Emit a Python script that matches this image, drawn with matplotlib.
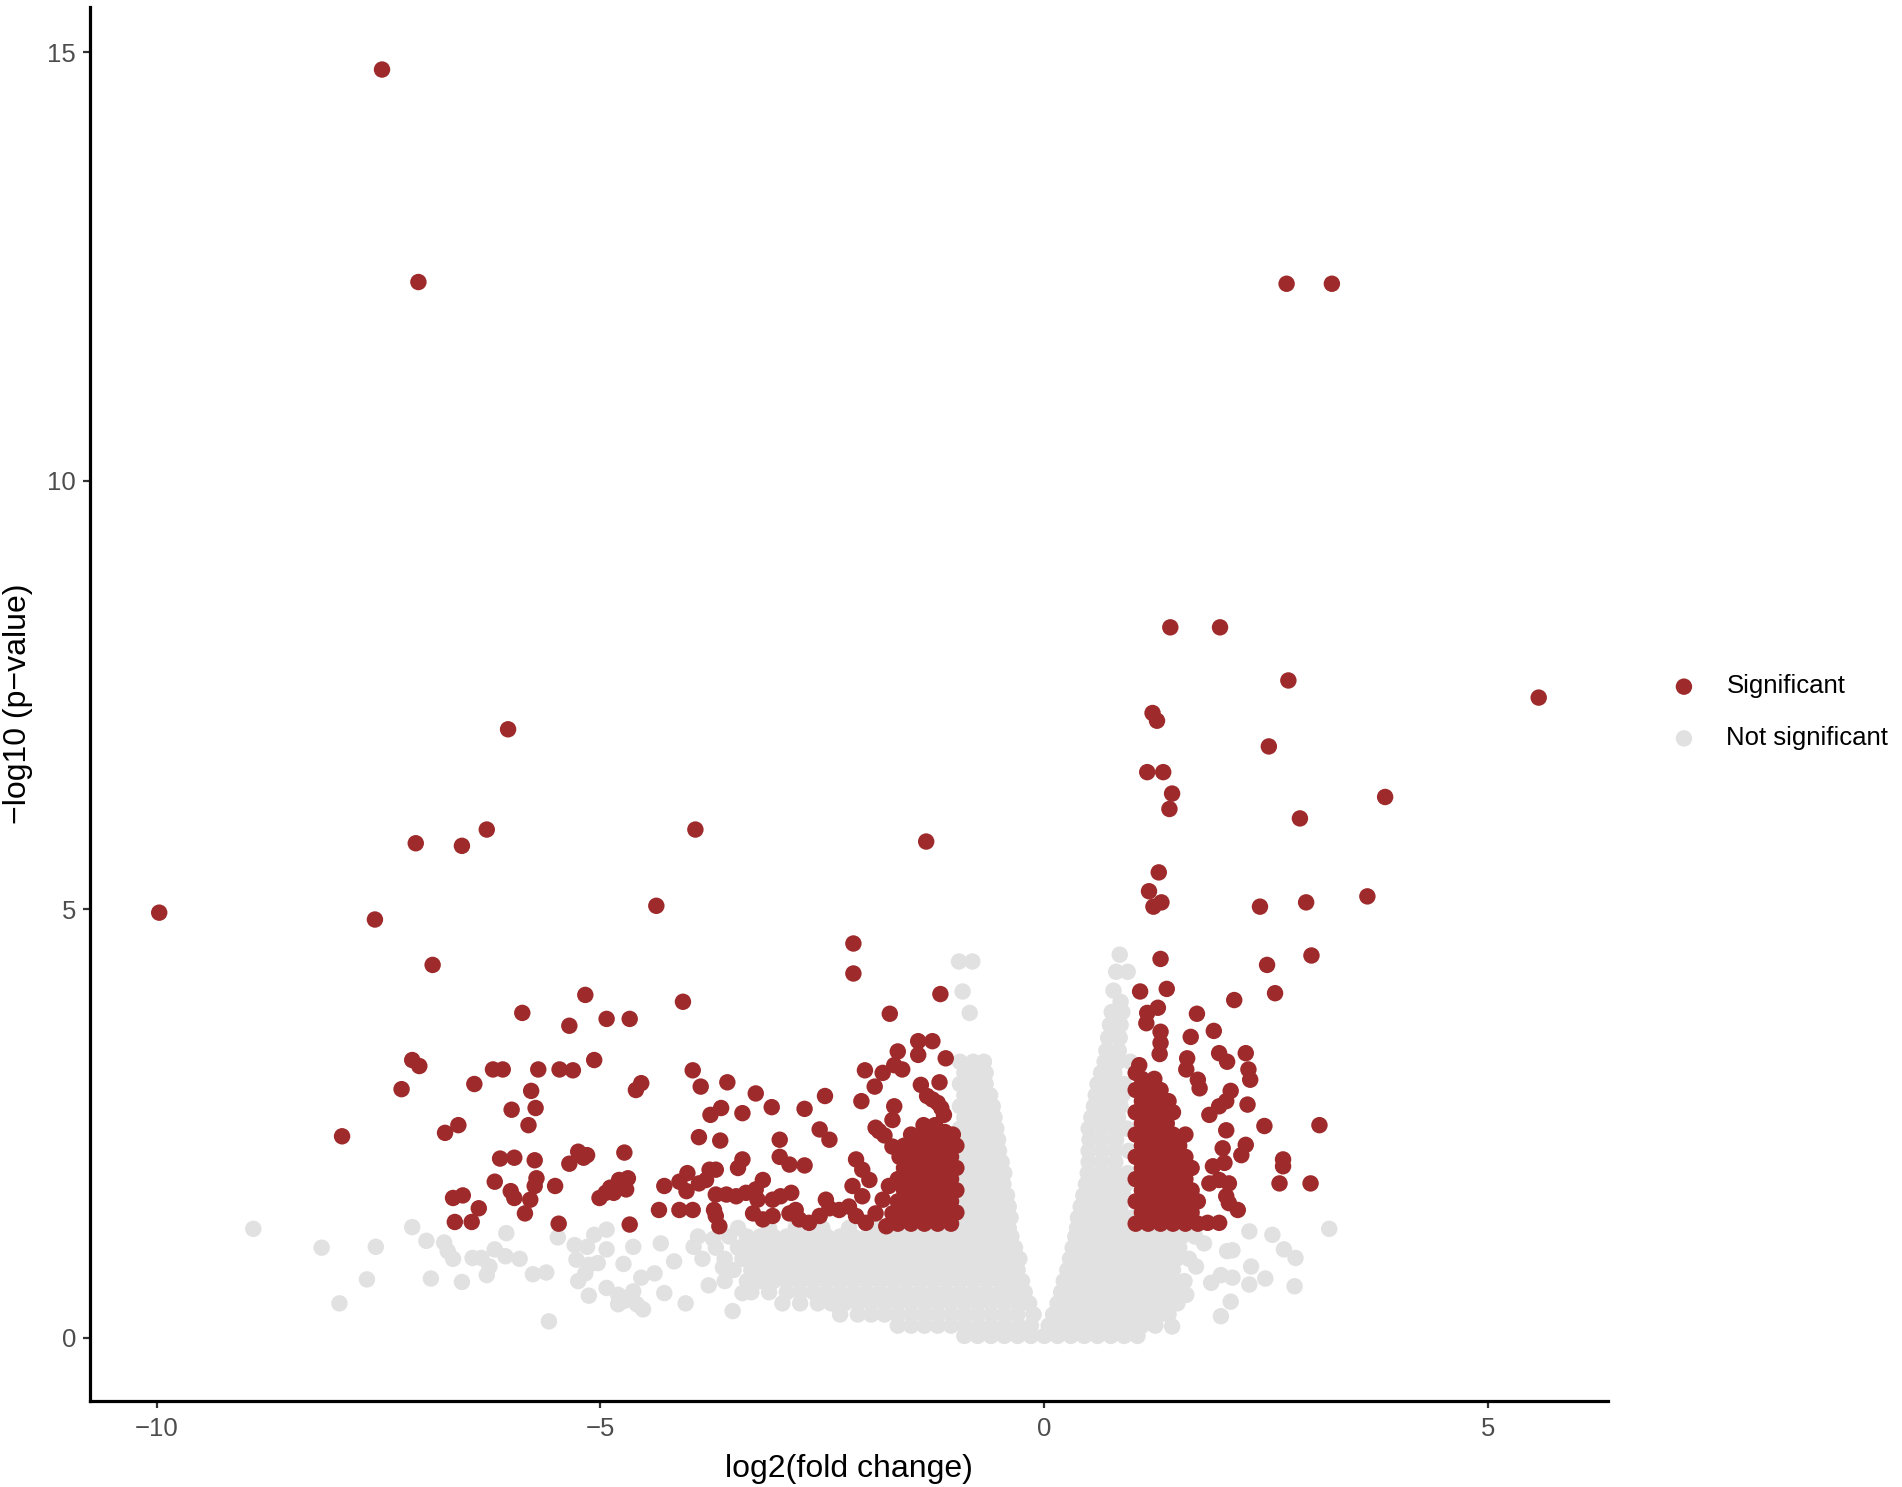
import matplotlib
matplotlib.use("Agg")
import matplotlib.pyplot as plt
import numpy as np

plt.rcParams["font.family"] = ["Liberation Sans", "DejaVu Sans"]

# ---- data (log2 fold change, -log10 p) ----
red_top = [(-7.46, 14.80), (-7.05, 12.32), (2.73, 12.30), (3.24, 12.30),
           (1.42, 8.29), (1.98, 8.29), (2.75, 7.67), (5.57, 7.47), (1.22, 7.29), (1.27, 7.20),
           (2.53, 6.90), (1.16, 6.60), (1.34, 6.60), (1.44, 6.35), (1.41, 6.17), (3.84, 6.31),
           (2.88, 6.06), (-6.04, 7.10), (-6.28, 5.93), (-6.56, 5.74), (-7.08, 5.77),
           (-3.93, 5.93), (-1.33, 5.79), (-9.97, 4.96), (-7.54, 4.88), (-6.89, 4.35),
           (-4.37, 5.04), (1.29, 5.43), (1.18, 5.21), (1.32, 5.08), (1.23, 5.03), (2.43, 5.03),
           (2.95, 5.08), (3.64, 5.15), (1.31, 4.42), (2.51, 4.35), (3.01, 4.46), (-2.15, 4.60),
           (-2.15, 4.25), (1.08, 4.04), (1.38, 4.07), (2.60, 4.02), (-1.17, 4.01), (-5.17, 4.00)]

red_left = [(-4.07, 3.92), (-5.88, 3.79), (-5.35, 3.64), (-4.93, 3.72), (-4.67, 3.72), (-1.74, 3.78),
            (-7.12, 3.24), (-7.04, 3.17), (-7.24, 2.90), (-6.21, 3.13), (-6.10, 3.13), (-6.42, 2.96),
            (-5.70, 3.13), (-5.46, 3.13), (-5.31, 3.12), (-5.07, 3.24), (-5.78, 2.88), (-6.00, 2.66),
            (-5.73, 2.68), (-4.60, 2.89), (-4.54, 2.97), (-7.91, 2.35), (-5.81, 2.48), (-6.75, 2.39),
            (-6.60, 2.48), (-6.13, 2.09), (-5.97, 2.10), (-5.74, 2.07), (-6.19, 1.82), (-6.01, 1.71),
            (-5.97, 1.63), (-5.72, 1.86), (-5.74, 1.77), (-5.79, 1.61), (-5.85, 1.45), (-5.51, 1.77),
            (-5.35, 2.03), (-5.25, 2.17), (-5.15, 2.13), (-5.19, 2.10), (-4.73, 2.16), (-6.66, 1.63),
            (-6.55, 1.66), (-6.37, 1.51), (-6.64, 1.35), (-6.45, 1.35), (-5.47, 1.33), (-4.67, 1.32),
            (-4.79, 1.84), (-4.69, 1.86), (-4.71, 1.73), (-4.85, 1.69), (-5.01, 1.63), (-4.89, 1.75),
            (-4.94, 1.69), (-3.96, 3.12), (-3.87, 2.93), (-3.57, 2.98), (-3.25, 2.85), (-3.07, 2.69),
            (-3.40, 2.62), (-3.64, 2.68), (-3.76, 2.60), (-2.70, 2.67), (-2.47, 2.82), (-2.06, 2.76),
            (-2.02, 3.12), (-1.65, 3.34), (-1.42, 3.46), (-1.26, 3.46), (-1.42, 3.30), (-1.11, 3.26),
            (-1.82, 3.09), (-1.69, 3.18), (-1.60, 3.13), (-1.91, 2.93), (-1.18, 2.98), (-1.39, 2.95),
            (-1.26, 2.78), (-1.32, 2.82), (-1.20, 2.74), (-1.69, 2.70), (-1.13, 2.60), (-1.16, 2.68),
            (-1.86, 2.41), (-1.71, 2.54), (-1.36, 2.48), (-1.23, 2.48), (-1.12, 2.40), (-2.53, 2.43),
            (-2.42, 2.31), (-2.98, 2.31), (-3.89, 2.34), (-3.65, 2.30), (-2.98, 2.11), (-2.87, 2.02),
            (-2.70, 2.01), (-3.40, 2.08), (-3.45, 1.98), (-3.77, 1.96), (-3.70, 1.96), (-4.02, 1.92),
            (-4.28, 1.77), (-4.11, 1.82), (-4.03, 1.71), (-3.89, 1.80), (-3.81, 1.84), (-3.70, 1.67),
            (-3.58, 1.67), (-3.47, 1.65), (-3.36, 1.69), (-3.25, 1.73), (-3.17, 1.84), (-3.23, 1.61),
            (-3.06, 1.61), (-2.97, 1.65), (-2.85, 1.69), (-2.80, 1.49), (-4.34, 1.49), (-4.11, 1.49),
            (-3.96, 1.49), (-3.72, 1.49), (-3.70, 1.42), (-3.66, 1.30), (-3.28, 1.45), (-3.17, 1.38),
            (-3.06, 1.42), (-2.87, 1.45), (-2.76, 1.38), (-2.65, 1.34), (-2.53, 1.42), (-2.42, 1.51),
            (-2.46, 1.61), (-2.31, 1.49), (-2.20, 1.53), (-2.16, 1.77), (-2.05, 1.65), (-2.12, 1.42),
            (-2.01, 1.34), (-1.90, 1.45), (-1.82, 1.61), (-1.75, 1.77), (-1.71, 1.45), (-1.78, 1.30),
            (-2.12, 2.08), (-2.05, 1.96), (-1.97, 1.84), (-1.90, 2.45), (-1.80, 2.36), (-1.71, 2.23),
            (-1.63, 2.11)]

red_left_block = [(-1.65, 1.33), (-1.50, 1.33), (-1.35, 1.33), (-1.20, 1.33), (-1.05, 1.33),
                  (-1.58, 1.46), (-1.43, 1.46), (-1.28, 1.46), (-1.13, 1.46), (-0.99, 1.46),
                  (-1.65, 1.59), (-1.50, 1.59), (-1.35, 1.59), (-1.20, 1.59), (-1.05, 1.59),
                  (-1.58, 1.72), (-1.43, 1.72), (-1.28, 1.72), (-1.13, 1.72), (-0.99, 1.72),
                  (-1.65, 1.85), (-1.50, 1.85), (-1.35, 1.85), (-1.20, 1.85), (-1.05, 1.85),
                  (-1.58, 1.98), (-1.43, 1.98), (-1.28, 1.98), (-1.13, 1.98), (-0.99, 1.98),
                  (-1.50, 2.11), (-1.35, 2.11), (-1.20, 2.11), (-1.05, 2.11),
                  (-1.58, 2.24), (-1.43, 2.24), (-1.28, 2.24), (-1.13, 2.24), (-0.99, 2.24),
                  (-1.50, 2.37), (-1.35, 2.37), (-1.20, 2.37), (-1.03, 2.37)]

red_right = [(1.16, 3.79), (1.28, 3.85), (1.15, 3.67), (1.72, 3.78), (1.91, 3.58), (2.14, 3.94),
             (1.65, 3.51), (1.31, 3.57), (1.31, 3.44), (1.30, 3.31), (1.97, 3.32), (2.06, 3.22),
             (2.27, 3.32), (2.30, 3.13), (2.32, 3.01), (1.61, 3.26), (1.60, 3.13), (1.73, 3.01),
             (1.75, 2.91), (1.07, 3.18), (1.03, 3.09), (2.10, 2.88), (2.05, 2.76), (1.97, 2.70),
             (1.86, 2.60), (2.29, 2.72), (2.48, 2.47), (3.10, 2.48), (2.05, 2.42), (2.01, 2.21),
             (2.03, 2.04), (2.27, 2.25), (2.22, 2.13), (2.69, 2.08), (2.69, 2.00), (2.65, 1.80),
             (3.00, 1.80), (1.90, 2.00), (1.86, 1.80), (1.97, 1.84), (2.08, 1.80), (2.05, 1.65),
             (2.18, 1.49), (2.08, 1.57), (1.97, 1.34), (1.84, 1.34)]

red_right_block = [(1.03, 1.33), (1.17, 1.33), (1.31, 1.33), (1.45, 1.33), (1.59, 1.33), (1.73, 1.33),
                   (1.10, 1.46), (1.24, 1.46), (1.38, 1.46), (1.52, 1.46), (1.66, 1.46),
                   (1.03, 1.59), (1.17, 1.59), (1.31, 1.59), (1.45, 1.59), (1.59, 1.59), (1.73, 1.59),
                   (1.10, 1.72), (1.24, 1.72), (1.38, 1.72), (1.52, 1.72), (1.66, 1.72),
                   (1.03, 1.85), (1.17, 1.85), (1.31, 1.85), (1.45, 1.85), (1.59, 1.85),
                   (1.10, 1.98), (1.24, 1.98), (1.38, 1.98), (1.52, 1.98), (1.66, 1.98),
                   (1.03, 2.11), (1.17, 2.11), (1.31, 2.11), (1.45, 2.11), (1.59, 2.11),
                   (1.10, 2.24), (1.24, 2.24), (1.38, 2.24), (1.52, 2.24),
                   (1.03, 2.37), (1.17, 2.37), (1.31, 2.37), (1.45, 2.37), (1.59, 2.37),
                   (1.10, 2.50), (1.24, 2.50), (1.38, 2.50),
                   (1.03, 2.63), (1.17, 2.63), (1.31, 2.63), (1.45, 2.63),
                   (1.10, 2.76), (1.24, 2.76), (1.40, 2.76),
                   (1.03, 2.89), (1.17, 2.89), (1.31, 2.89),
                   (1.10, 3.02), (1.24, 3.02)]

# not significant: scattered far-left / far-right points
gray_sparse = [(-8.91, 1.27), (-8.14, 1.05), (-7.53, 1.06), (-7.63, 0.68), (-7.94, 0.40), (-7.12, 1.29),
               (-6.96, 1.13), (-6.76, 1.11), (-6.72, 1.01), (-6.66, 0.92), (-6.91, 0.69), (-6.56, 0.65),
               (-6.44, 0.93), (-6.34, 0.93), (-6.25, 0.83), (-6.28, 0.73), (-6.19, 1.03), (-6.07, 0.95),
               (-5.91, 0.92), (-6.06, 1.22), (-5.76, 0.74), (-5.61, 0.76), (-5.58, 0.19), (-5.48, 1.17),
               (-5.29, 1.08), (-5.15, 1.06), (-5.07, 1.20), (-4.93, 1.26), (-5.27, 0.91), (-5.13, 0.85),
               (-5.03, 0.87), (-5.17, 0.75), (-5.25, 0.66), (-5.13, 0.49), (-4.74, 0.86), (-4.93, 0.58),
               (-4.80, 0.50), (-4.73, 0.43), (-4.59, 0.39), (-4.80, 0.39), (-4.63, 0.54), (-4.54, 0.70),
               (-4.52, 0.33), (-4.39, 0.75), (-4.28, 0.52), (-4.17, 0.89), (-4.04, 0.40), (-3.95, 1.06),
               (-3.78, 0.61), (-3.62, 0.82), (-3.51, 0.31), (-3.40, 0.52), (-4.93, 1.03), (-4.63, 1.06),
               (-4.32, 1.10), (-3.73, 1.15),
               (2.31, 1.24), (2.57, 1.20), (2.70, 1.03), (2.83, 0.93), (3.21, 1.27), (2.06, 1.01),
               (2.33, 0.83), (1.99, 0.73), (2.12, 0.70), (1.88, 0.64), (2.82, 0.60), (2.10, 0.42),
               (1.99, 0.25), (1.80, 1.10), (1.71, 0.83), (1.60, 0.50), (1.44, 0.13), (1.25, 0.15),
               (2.49, 0.69), (2.12, 1.02), (2.31, 0.62)]

# dense band near the bottom: (y, x positions along that row)
gray_band = [
    (0.02, [-0.9, -0.75, -0.6, -0.45, -0.3, -0.15, 0.0, 0.15, 0.3, 0.45, 0.6, 0.75, 0.9, 1.05]),
    (0.14, [-1.65, -1.5, -1.35, -1.2, -1.05, -0.9, -0.75, -0.6, -0.45, -0.3, -0.15, 0.05, 0.2, 0.35,
            0.5, 0.65, 0.8, 0.95, 1.1, 1.25]),
    (0.27, [-2.3, -2.1, -1.95, -1.8, -1.65, -1.5, -1.35, -1.2, -1.05, -0.9, -0.75, -0.6, -0.45, -0.3,
            -0.12, 0.1, 0.25, 0.4, 0.55, 0.7, 0.85, 1.0, 1.15, 1.3, 1.4]),
    (0.40, [-2.95, -2.75, -2.55, -2.4, -2.25, -2.1, -1.95, -1.8, -1.65, -1.5, -1.35, -1.2, -1.05, -0.9,
            -0.75, -0.6, -0.45, -0.3, -0.17, 0.15, 0.3, 0.45, 0.6, 0.75, 0.9, 1.05, 1.2, 1.35, 1.5]),
    (0.53, [-3.3, -3.1, -2.9, -2.75, -2.6, -2.45, -2.3, -2.15, -2.0, -1.85, -1.7, -1.55, -1.4, -1.25,
            -1.1, -0.95, -0.8, -0.65, -0.5, -0.35, -0.22, 0.19, 0.33, 0.47, 0.62, 0.77, 0.92, 1.07,
            1.22, 1.37, 1.5]),
    (0.66, [-3.6, -3.35, -3.2, -3.05, -2.9, -2.75, -2.6, -2.45, -2.3, -2.15, -2.0, -1.85, -1.7, -1.55,
            -1.4, -1.25, -1.1, -0.95, -0.8, -0.65, -0.5, -0.37, -0.25, 0.22, 0.37, 0.52, 0.67, 0.82,
            0.97, 1.12, 1.27, 1.42, 1.58]),
    (0.79, [-3.5, -3.3, -3.15, -3.0, -2.85, -2.7, -2.55, -2.4, -2.25, -2.1, -1.95, -1.8, -1.65, -1.5,
            -1.35, -1.2, -1.05, -0.9, -0.75, -0.6, -0.45, -0.3, 0.26, 0.4, 0.55, 0.7, 0.85, 1.0, 1.15,
            1.3, 1.45]),
    (0.92, [-3.85, -3.6, -3.4, -3.25, -3.1, -2.95, -2.8, -2.65, -2.5, -2.35, -2.2, -2.05, -1.9, -1.75,
            -1.6, -1.45, -1.3, -1.15, -1.0, -0.85, -0.7, -0.55, -0.4, -0.28, 0.29, 0.44, 0.59, 0.74,
            0.89, 1.04, 1.19, 1.34, 1.49, 1.63]),
    (1.05, [-3.7, -3.45, -3.3, -3.15, -3.0, -2.85, -2.7, -2.55, -2.4, -2.25, -2.1, -1.95, -1.8, -1.65,
            -1.5, -1.35, -1.2, -1.05, -0.9, -0.75, -0.6, -0.45, -0.33, 0.32, 0.47, 0.62, 0.77, 0.92,
            1.07, 1.22, 1.37, 1.52]),
    (1.18, [-3.9, -3.55, -3.35, -3.2, -3.05, -2.9, -2.75, -2.6, -2.45, -2.3, -2.15, -2.0, -1.85, -1.7,
            -1.55, -1.4, -1.25, -1.1, -0.95, -0.8, -0.65, -0.5, -0.37, 0.35, 0.5, 0.65, 0.8, 0.95,
            1.1, 1.25, 1.4, 1.55, 1.7]),
    (1.28, [-3.45, -3.1, -2.8, -2.5, -2.2, -1.9, -1.6, -1.3, -1.0, -0.85, -0.7, -0.55, -0.4, 0.37,
            0.52, 0.67, 0.82, 0.97, 1.15, 1.4]),
]

# the two arms of the volcano (|log2FC| < 1, higher p)
gray_arm_left = [
    (1.40, [-0.95, -0.8, -0.65, -0.5, -0.38]), (1.53, [-0.9, -0.75, -0.6, -0.47, -0.4]),
    (1.66, [-0.95, -0.8, -0.65, -0.5, -0.42]), (1.79, [-0.9, -0.75, -0.6, -0.46]),
    (1.92, [-0.95, -0.8, -0.65, -0.5, -0.45]), (2.05, [-0.9, -0.75, -0.6, -0.48]),
    (2.18, [-0.95, -0.8, -0.65, -0.51]), (2.31, [-0.9, -0.75, -0.6, -0.52]),
    (2.44, [-0.95, -0.8, -0.65, -0.54]), (2.57, [-0.9, -0.75, -0.6, -0.56]),
    (2.70, [-0.95, -0.8, -0.65, -0.58]), (2.83, [-0.9, -0.75, -0.61]),
    (2.96, [-0.95, -0.8, -0.66]), (3.09, [-0.9, -0.77, -0.66]),
    (3.22, [-0.95, -0.8, -0.68]), (3.79, [-0.84]), (4.04, [-0.92]), (4.39, [-0.96, -0.81]),
]

gray_arm_right = [
    (1.40, [0.38, 0.53, 0.68, 0.83, 0.98]), (1.53, [0.41, 0.56, 0.71, 0.86]),
    (1.66, [0.44, 0.59, 0.74, 0.89]), (1.79, [0.47, 0.62, 0.77, 0.92]),
    (1.92, [0.49, 0.64, 0.79, 0.94]), (2.05, [0.5, 0.65, 0.8]),
    (2.18, [0.5, 0.65, 0.8, 0.95]), (2.31, [0.51, 0.66, 0.81]),
    (2.44, [0.5, 0.65, 0.8, 0.93]), (2.57, [0.53, 0.68, 0.83]),
    (2.70, [0.56, 0.71, 0.86]), (2.83, [0.58, 0.73, 0.88]),
    (2.96, [0.6, 0.75, 0.9]), (3.09, [0.64, 0.79]),
    (3.22, [0.68, 0.83, 0.97]), (3.35, [0.7, 0.84]), (3.50, [0.72, 0.85]),
    (3.65, [0.74, 0.86]), (3.80, [0.76, 0.88]), (3.92, [0.86]), (4.05, [0.78]),
    (4.27, [0.81, 0.94]), (4.47, [0.85]),
]

labels = ["Significant", "Not significant"]
col_sig = "#9E2A2B"
col_ns = "#E1E1E1"


def rows_to_xy(rows):
    xs, ys = [], []
    for y, xlist in rows:
        xs += xlist
        ys += [y] * len(xlist)
    return xs, ys


sig = np.array(red_top + red_left + red_left_block + red_right + red_right_block)
gx, gy = [p[0] for p in gray_sparse], [p[1] for p in gray_sparse]
for rows in (gray_band, gray_arm_left, gray_arm_right):
    xs, ys = rows_to_xy(rows)
    gx += xs
    gy += ys

fig = plt.figure(figsize=(19.02, 14.87), dpi=100)
ax = fig.add_axes([0.0473, 0.0578, 0.8454 - 0.0473, 0.9953 - 0.0578])

ms = 140
ax.scatter(gx, gy, s=ms, color=col_ns, edgecolors="none", label=labels[1], zorder=2)
ax.scatter(sig[:, 0], sig[:, 1], s=ms, color=col_sig, edgecolors="none", label=labels[0], zorder=3)

ax.set_xlim(-10.75, 6.35)
ax.set_ylim(-0.74, 15.53)
ax.set_xticks([-10, -5, 0, 5])
ax.set_yticks([0, 5, 10, 15])
ax.set_xticklabels(["\u221210", "\u22125", "0", "5"])

for s in ["top", "right"]:
    ax.spines[s].set_visible(False)
for s in ["left", "bottom"]:
    ax.spines[s].set_linewidth(2.3)
    ax.spines[s].set_color("black")

ax.tick_params(length=5, width=1.6, color="#333333", labelsize=18.5, labelcolor="#4D4D4D", pad=5)
ax.tick_params(axis="x", pad=6.5)
ax.set_xlabel("log2(fold change)", fontsize=23, labelpad=9.5)
ax.set_ylabel("\u2212log10 (p\u2212value)", fontsize=23, labelpad=10)

h, l = ax.get_legend_handles_labels()
order = [l.index(labels[0]), l.index(labels[1])]
ax.legend([h[i] for i in order], [l[i] for i in order], loc="center left",
          bbox_to_anchor=(0.8786, 0.521), bbox_transform=fig.transFigure, frameon=False,
          fontsize=18.5, handlelength=1.0, handletextpad=1.15, labelspacing=1.08,
          borderpad=0, borderaxespad=0)

fig.savefig("out.png", dpi=100)
